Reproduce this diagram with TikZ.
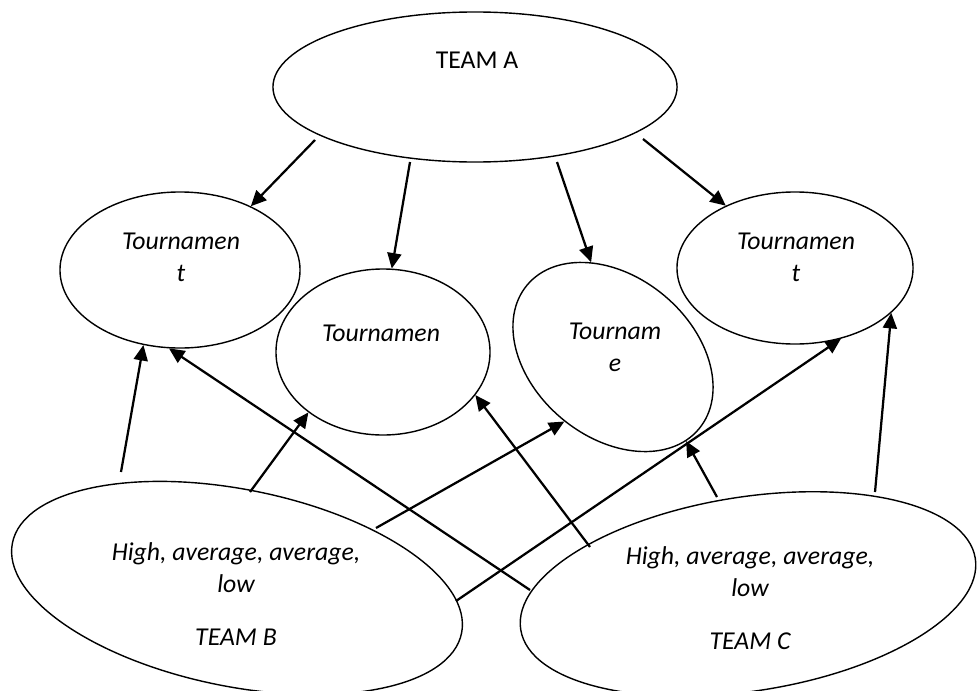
\documentclass[tikz,border=0pt]{standalone}
\usepackage{fontspec}
\setmainfont{Carlito}
\usetikzlibrary{shapes.geometric,arrows.meta}

\tikzset{
  oval/.style={draw, ellipse, line width=1pt, inner sep=0pt},
  arr/.style={-{Triangle[length=11pt,width=10pt]}, line width=1.6pt},
  txt/.style={align=center, font=\fontsize{18.3}{22.7}\selectfont\itshape}
}

\begin{document}
\begin{tikzpicture}[x=0.025cm,y=-0.025cm]
    \useasboundingbox (0,0) rectangle (977,690);
    \node[oval, minimum width=10.1cm, minimum height=3.75cm] (TA) at (475,87) {};
    \node[oval, minimum width=6cm, minimum height=3.9cm] (T1) at (180,270) {};
    \node[oval, minimum width=5.35cm, minimum height=4.15cm] (T2) at (383,352) {};
    \node[oval, minimum width=5.6cm, minimum height=4cm, rotate=-40] (T3) at (613,357) {};
    \node[oval, minimum width=5.9cm, minimum height=3.8cm] (T4) at (795,268) {};
    \node[oval, minimum width=11.45cm, minimum height=4.925cm, rotate=-11.35] (TB) at (237,588) {};
    \node[oval, minimum width=11.5cm, minimum height=4.85cm, rotate=8.9] (TC) at (748,594) {};
    % texts
    \node[txt, font=\fontsize{18.3}{22.7}\selectfont] at (477,60) {TEAM A};
    \node[txt] at (181,257) {Tournamen\\t};
    \node[txt] at (381,333) {Tournamen};
    \node[txt] at (615,347) {Tournam\\e};
    \node[txt] at (796,257) {Tournamen\\t};
    \node[txt] at (236,594) {High, average, average,\\low\\[15pt]TEAM B};
    \node[txt] at (750,598) {High, average, average,\\low\\[15pt]TEAM C};
    % tails of the arrows
    \coordinate (a1) at (315,140);
    \coordinate (a2) at (410,162);
    \coordinate (a3) at (557,162);
    \coordinate (a4) at (643,139);
    \coordinate (b1) at (121,472);
    \coordinate (b2) at (250,492);
    \coordinate (b3) at (376,528);
    \coordinate (b4) at (456,601);
    \coordinate (c1) at (530,590);
    \coordinate (c2) at (590,547);
    \coordinate (c3) at (717,497);
    \coordinate (c4) at (875,492);
    \foreach \s/\t in {a1/T1.42, a2/T2.84.2, a3/T3.143.7, a4/T4.138.1,
                       b1/T1.244.6, b2/T2.219.5, b3/T3.273.5, b4/T4.-57,
                       c1/T1.262.9, c2/T2.-25.2, c3/T3.-9.4, c4/T4.-25.3}
        \draw[arr] (\s) -- (\t);
\end{tikzpicture}
\end{document}
